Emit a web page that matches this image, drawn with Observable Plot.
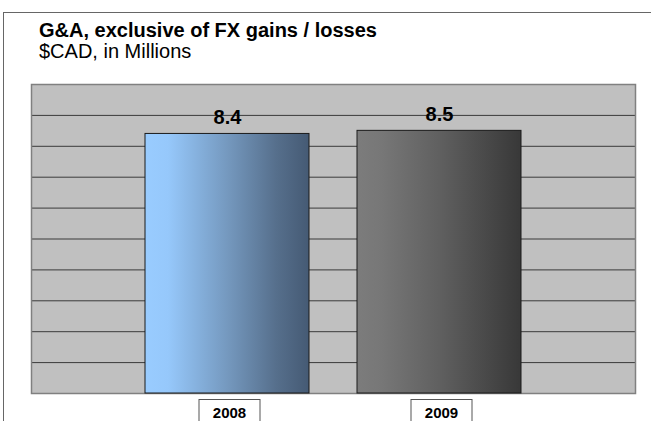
<!DOCTYPE html>
<html><head><meta charset="utf-8">
<script src="https://cdn.jsdelivr.net/npm/d3@7"></script>
<script src="https://cdn.jsdelivr.net/npm/@observablehq/plot@0.6"></script>
<style>
body{margin:0;background:#fff;font-family:"Liberation Sans",Arial,sans-serif;}
#wrap{position:relative;width:651px;height:421px;overflow:hidden;background:#fff;}
#border{position:absolute;left:3px;top:12px;width:660px;height:420px;border-left:1px solid #666;border-top:1px solid #666;}
#title{position:absolute;left:39px;top:20px;font-size:20px;line-height:20px;font-weight:bold;color:#000;white-space:nowrap;}
#subtitle{position:absolute;left:39px;top:41px;font-size:20px;line-height:20px;color:#000;white-space:nowrap;}
#chart{position:absolute;left:0;top:70px;}
</style>
</head><body>
<div id="wrap">
  <div id="border"></div>
  <div id="title">G&amp;A, exclusive of FX gains / losses</div>
  <div id="subtitle">$CAD, in Millions</div>
  <div id="chart"></div>
</div>
<script>
const years = ["2008", "2009"];
const values = [8.4, 8.5];
const labels = ["8.4", "8.5"];
const gradientIds = ["g2008", "g2009"];
const gridValues = [1, 2, 3, 4, 5, 6, 7, 8, 9];

const data = years.map((y, i) => ({year: y, value: values[i], label: labels[i], fill: `url(#${gradientIds[i]})`}));

const H = 351, MB = 28;
const svg = Plot.plot({
  width: 651,
  height: H,
  marginTop: 14,
  marginBottom: MB,
  marginLeft: 31,
  marginRight: 16,
  style: {background: "transparent", fontFamily: "'Liberation Sans', Arial, sans-serif", overflow: "visible"},
  x: {type: "band", domain: years, paddingInner: 0.2264, paddingOuter: 0.5377, axis: null},
  y: {domain: [0, 10], axis: null},
  color: {type: "identity"},
  marks: [
    Plot.frame({fill: "#c0c0c0", stroke: "none"}),
    Plot.ruleY(gridValues, {stroke: "#3a3a3a", strokeWidth: 1}),
    Plot.frame({stroke: "#808080", strokeWidth: 1.5}),
    Plot.barY(data, {x: "year", y: "value", fill: "fill", stroke: "#1a1a1a", strokeWidth: 1}),
    Plot.text(data, {x: "year", y: "value", text: "label", dy: -16, lineAnchor: "middle", fontSize: 20, fontWeight: "bold", fill: "#000"}),
    Plot.text(data, {x: "year", text: "year", frameAnchor: "bottom", dx: 2, dy: 20, lineAnchor: "middle", fontSize: 15, fontWeight: "bold", fill: "#000"})
  ]
});

document.getElementById("chart").appendChild(svg);

const s = d3.select(svg);
const defs = s.insert("defs", ":first-child");
const g1 = defs.append("linearGradient").attr("id", "g2008").attr("x1", 0).attr("x2", 1).attr("y1", 0).attr("y2", 0);
[[0, "#99ccff"], [0.14, "#96c8fb"], [0.5, "#7599bf"], [0.8, "#566f8c"], [1, "#455a74"]].forEach(([o, c]) => g1.append("stop").attr("offset", o).attr("stop-color", c));
const g2 = defs.append("linearGradient").attr("id", "g2009").attr("x1", 0).attr("x2", 1).attr("y1", 0).attr("y2", 0);
[[0, "#7c7c7c"], [0.15, "#777777"], [0.5, "#606060"], [1, "#383838"]].forEach(([o, c]) => g2.append("stop").attr("offset", o).attr("stop-color", c));

// boxes around the category labels (last text mark)
const textGroups = svg.querySelectorAll('g[aria-label="text"]');
const yearGroup = textGroups[textGroups.length - 1];
const svgBox = svg.getBoundingClientRect();
const boxes = [];
yearGroup.querySelectorAll("text").forEach(t => {
  const r = t.getBoundingClientRect();
  boxes.push({cx: r.left - svgBox.left + r.width / 2});
});
const boxLayer = s.insert("g", () => yearGroup);
boxes.forEach(b => {
  boxLayer.append("rect")
    .attr("x", b.cx - 30.5).attr("y", H - MB + 6.5)
    .attr("width", 61).attr("height", 40)
    .attr("fill", "#fff").attr("stroke", "#555").attr("stroke-width", 1);
});
</script>
</body></html>
